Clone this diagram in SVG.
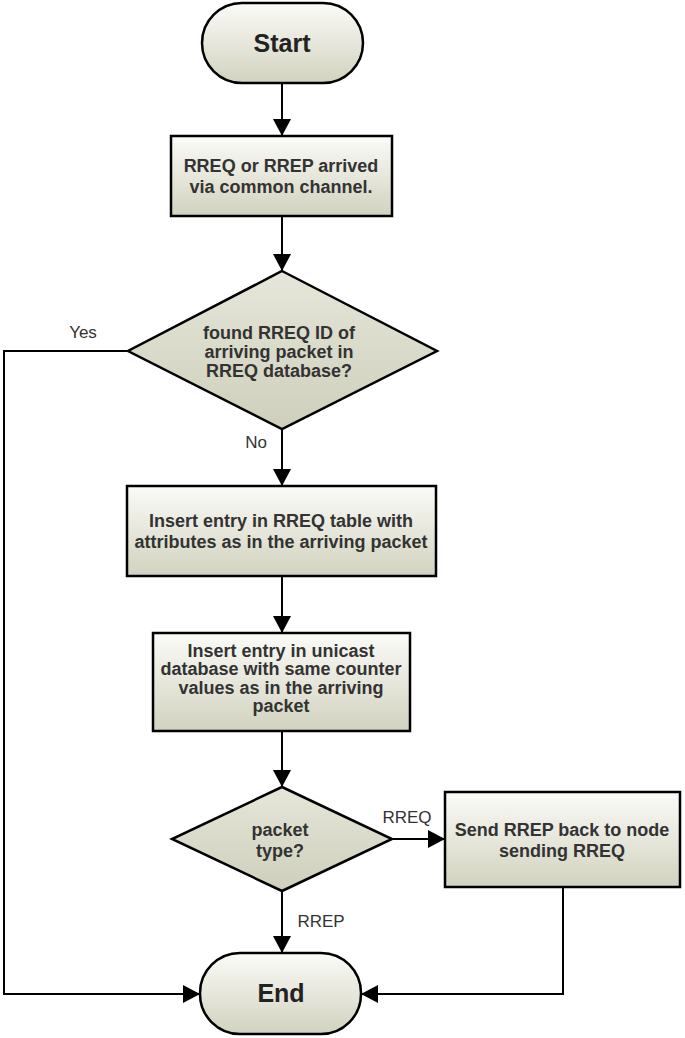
<svg xmlns="http://www.w3.org/2000/svg" width="685" height="1038" viewBox="0 0 685 1038">
  <defs>
    <linearGradient id="fillGrad" x1="0" y1="0" x2="0" y2="1">
      <stop offset="0" stop-color="#fbfbf8"/>
      <stop offset="1" stop-color="#d2d2bf"/>
    </linearGradient>
    <linearGradient id="diaGrad" x1="0" y1="0" x2="0" y2="1">
      <stop offset="0" stop-color="#e6e6da"/>
      <stop offset="1" stop-color="#cfcfbc"/>
    </linearGradient>
    <marker id="arrow" markerUnits="userSpaceOnUse" markerWidth="18" markerHeight="18" refX="17" refY="9" orient="auto">
      <path d="M0,0 L17,9 L0,18 Z" fill="#000"/>
    </marker>
  </defs>
  <style>
    .shape { fill: url(#fillGrad); stroke: #000; stroke-width: 2.5; }
    .dia { fill: url(#diaGrad); stroke: #000; stroke-width: 2.5; }
    .conn { fill: none; stroke: #000; stroke-width: 2; }
    .txt { font-family: "Liberation Sans", Arial, sans-serif; font-weight: bold; font-size: 18px; fill: #333; text-anchor: middle; }
    .term { font-family: "Liberation Sans", Arial, sans-serif; font-weight: bold; font-size: 25px; fill: #222; text-anchor: middle; }
    .lbl { font-family: "Liberation Sans", Arial, sans-serif; font-size: 17px; fill: #333; text-anchor: middle; }
  </style>
  <rect width="685" height="1038" fill="#fff"/>

  <g id="connectors">
    <line class="conn" x1="282" y1="83" x2="282" y2="136" marker-end="url(#arrow)"/>
    <line class="conn" x1="282" y1="216" x2="282" y2="271" marker-end="url(#arrow)"/>
    <line class="conn" x1="282" y1="429" x2="282" y2="486" marker-end="url(#arrow)"/>
    <line class="conn" x1="282" y1="576" x2="282" y2="633" marker-end="url(#arrow)"/>
    <line class="conn" x1="282" y1="731" x2="282" y2="787" marker-end="url(#arrow)"/>
    <line class="conn" x1="392" y1="839" x2="445" y2="839" marker-end="url(#arrow)"/>
    <line class="conn" x1="282" y1="891" x2="282" y2="953" marker-end="url(#arrow)"/>
    <polyline class="conn" points="128,351 4,351 4,994 200,994" marker-end="url(#arrow)"/>
    <polyline class="conn" points="563,887 563,994 361,994" marker-end="url(#arrow)"/>
    <text class="lbl" x="83" y="338">Yes</text>
    <text class="lbl" x="256" y="448">No</text>
    <text class="lbl" x="407" y="823">RREQ</text>
    <text class="lbl" x="321" y="927">RREP</text>
  </g>

  <g id="start">
    <rect class="shape" x="202" y="3" width="161" height="80" rx="40" ry="40"/>
    <text class="term" x="282" y="52">Start</text>
  </g>

  <g id="arrived">
    <rect class="shape" x="171" y="136" width="221" height="80"/>
    <text class="txt" x="281" y="172">RREQ or RREP arrived</text>
    <text class="txt" x="281" y="193">via common channel.</text>
  </g>

  <g id="found">
    <polygon class="dia" points="282,271 437,351 282,429 128,351"/>
    <text class="txt" x="279" y="339">found RREQ ID of</text>
    <text class="txt" x="279" y="358">arriving packet in</text>
    <text class="txt" x="279" y="377">RREQ database?</text>
  </g>

  <g id="insert-rreq">
    <rect class="shape" x="127" y="486" width="309" height="90"/>
    <text class="txt" x="281" y="527">Insert entry in RREQ table with</text>
    <text class="txt" x="281" y="548">attributes as in the arriving packet</text>
  </g>

  <g id="insert-unicast">
    <rect class="shape" x="153" y="633" width="257" height="98"/>
    <text class="txt" x="281" y="657">Insert entry in unicast</text>
    <text class="txt" x="281" y="675">database with same counter</text>
    <text class="txt" x="281" y="694">values as in the arriving</text>
    <text class="txt" x="281" y="712">packet</text>
  </g>

  <g id="packet-type">
    <polygon class="dia" points="282,787 392,839 282,891 172,839"/>
    <text class="txt" x="280" y="836">packet</text>
    <text class="txt" x="280" y="857">type?</text>
  </g>

  <g id="send-rrep">
    <rect class="shape" x="445" y="792" width="235" height="95"/>
    <text class="txt" x="562" y="836">Send RREP back to node</text>
    <text class="txt" x="562" y="857">sending RREQ</text>
  </g>

  <g id="end">
    <rect class="shape" x="200" y="953" width="161" height="81" rx="40" ry="40"/>
    <text class="term" x="281" y="1002">End</text>
  </g>
</svg>
